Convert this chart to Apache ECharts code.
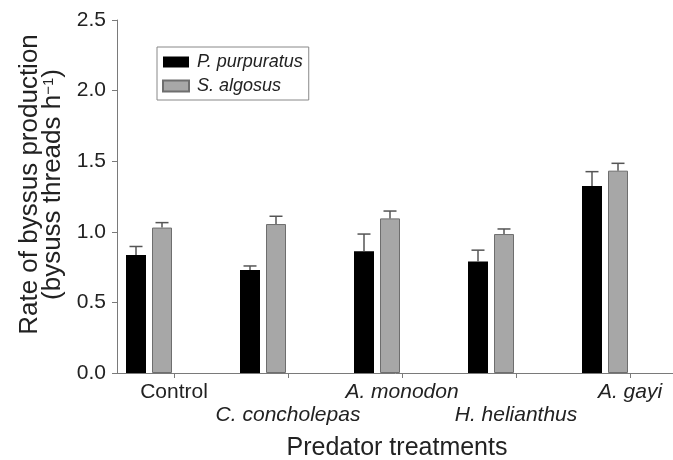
<!DOCTYPE html>
<html><head><meta charset="utf-8">
<script src="https://cdn.jsdelivr.net/npm/echarts@6/dist/echarts.min.js"></script>
<style>html,body{margin:0;padding:0;background:#fff}#c{width:673px;height:460px}</style>
</head><body><div id="c"></div>
<script>
// ---- data ----
const categories = ['Control', 'C. concholepas', 'A. monodon', 'H. helianthus', 'A. gayi'];
const italicCategory = [false, true, true, true, true];
const lowerRow = [false, true, false, true, false];
const seriesNames = ['P. purpuratus', 'S. algosus'];
const purpuratusMean = [0.836, 0.73, 0.862, 0.79, 1.324];
const purpuratusSE = [0.06, 0.028, 0.122, 0.08, 0.102];
const algosusMean = [1.03, 1.055, 1.095, 0.984, 1.433];
const algosusSE = [0.035, 0.055, 0.052, 0.036, 0.052];
const yMin = 0, yMax = 2.5, yStep = 0.5;

// ---- styles ----
const FONT = 'Liberation Sans, Arial, Helvetica, sans-serif';
const TXT = '#222';
const AX = '#7a7a7a';
const BAR_W = 20, BAR_GAP = 6, CAP = 6.5;

function errData(mean, se) { return mean.map((m, i) => [i, m, m + se[i]]); }
function errRender(sign) {
  return function (params, api) {
    const x = api.value(0);
    const pLo = api.coord([x, api.value(1)]);
    const pHi = api.coord([x, api.value(2)]);
    const cx = pLo[0] + sign * (BAR_W + BAR_GAP) / 2;
    const st = { stroke: '#555', lineWidth: 1.5 };
    return { type: 'group', children: [
      { type: 'line', shape: { x1: cx, y1: pLo[1], x2: cx, y2: pHi[1] }, style: st },
      { type: 'line', shape: { x1: cx - CAP, y1: pHi[1], x2: cx + CAP, y2: pHi[1] }, style: st }
    ]};
  };
}

const chart = echarts.init(document.getElementById('c'), null, { renderer: 'canvas' });
chart.setOption({
  animation: false,
  backgroundColor: '#fff',
  textStyle: { fontFamily: FONT, color: TXT },
  legend: {
    data: seriesNames,
    orient: 'vertical', left: 157, top: 47,
    padding: [6, 6, 5, 5], itemGap: 6,
    itemWidth: 26, itemHeight: 11, icon: 'rect',
    borderColor: '#888', borderWidth: 1, borderRadius: 0,
    textStyle: { fontFamily: FONT, fontSize: 18, fontStyle: 'italic', color: TXT, padding: [0, 0, 0, 3] }
  },
  grid: [
    { left: 92, width: 570, top: 20, bottom: 87, containLabel: false, outerBoundsMode: 'none' },
    { left: 117, width: 570, top: 20, bottom: 87, containLabel: false, outerBoundsMode: 'none' }
  ],
  xAxis: [
    { gridIndex: 0, type: 'category', data: categories, show: false, boundaryGap: true },
    { gridIndex: 1, type: 'category', data: categories, boundaryGap: true,
      axisLine: { show: true, lineStyle: { color: AX, width: 1 } },
      axisTick: { show: true, alignWithLabel: true, length: 5, lineStyle: { color: AX } },
      axisLabel: {
        interval: 0, margin: 8, fontSize: 21, color: TXT, lineHeight: 23, fontFamily: FONT,
        formatter: function (v, i) {
          const t = italicCategory[i] ? '{i|' + v + '}' : '{n|' + v + '}';
          return lowerRow[i] ? '\n' + t : t;
        },
        rich: {
          n: { fontSize: 21, fontFamily: FONT, color: TXT, lineHeight: 23 },
          i: { fontSize: 21, fontFamily: FONT, color: TXT, fontStyle: 'italic', lineHeight: 23 }
        }
      },
      name: 'Predator treatments', nameLocation: 'middle', nameGap: 63,
      nameTextStyle: { fontSize: 25, color: TXT, fontFamily: FONT, padding: [0, 10, 0, 0] }
    }
  ],
  yAxis: [
    { gridIndex: 0, type: 'value', min: yMin, max: yMax, interval: yStep, show: false },
    { gridIndex: 1, type: 'value', min: yMin, max: yMax, interval: yStep,
      splitLine: { show: false },
      axisLine: { show: true, lineStyle: { color: AX, width: 1 } },
      axisTick: { show: true, length: 5, lineStyle: { color: AX } },
      axisLabel: { fontSize: 21, color: TXT, margin: 11, fontFamily: FONT, formatter: v => v.toFixed(1) },
      name: '{a|Rate of byssus production}\n{a|(bysuss threads h}{s|−1}{a|)}',
      nameLocation: 'middle', nameGap: 43, nameRotate: 90,
      nameTextStyle: {
        fontSize: 26, color: TXT, fontFamily: FONT, lineHeight: 23, padding: [0, 0, 0, 24],
        rich: {
          a: { fontSize: 26, fontFamily: FONT, color: TXT, lineHeight: 23 },
          s: { fontSize: 15, fontFamily: FONT, color: TXT, lineHeight: 23, verticalAlign: 'top', padding: [0, 0, 10, 0] }
        }
      }
    }
  ],
  series: [
    { name: seriesNames[0], type: 'bar', xAxisIndex: 0, yAxisIndex: 0, data: purpuratusMean,
      barWidth: BAR_W, barGap: '30%',
      itemStyle: { color: '#000', borderColor: '#000', borderWidth: 0 } },
    { name: seriesNames[1], type: 'bar', xAxisIndex: 0, yAxisIndex: 0, data: algosusMean,
      barWidth: BAR_W, barGap: '30%',
      itemStyle: { color: '#a7a7a7', borderColor: '#6e6e6e', borderWidth: 1 } },
    { type: 'custom', xAxisIndex: 0, yAxisIndex: 0, z: 5, renderItem: errRender(-1),
      data: errData(purpuratusMean, purpuratusSE), silent: true },
    { type: 'custom', xAxisIndex: 0, yAxisIndex: 0, z: 5, renderItem: errRender(1),
      data: errData(algosusMean, algosusSE), silent: true }
  ]
});
</script>
</body></html>
